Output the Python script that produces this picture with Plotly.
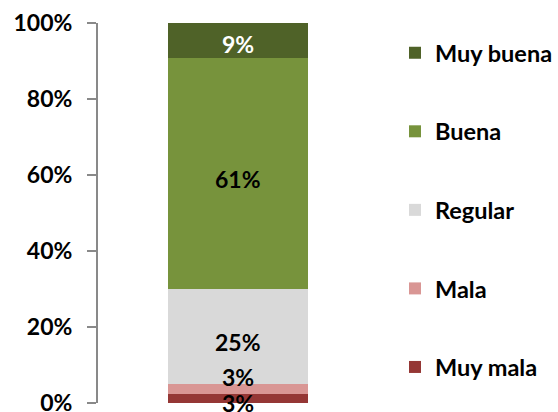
import plotly.graph_objects as go

categories = ["Total"]
series_names = ["Muy mala", "Mala", "Regular", "Buena", "Muy buena"]
series_values = [2.3, 2.8, 24.8, 61.0, 9.1]
value_labels = ["3%", "3%", "25%", "61%", "9%"]
colors = ["#953735", "#D99694", "#D9D9D9", "#77933C", "#4F6228"]
label_colors = ["#000000", "#000000", "#000000", "#000000", "#FFFFFF"]
label_shift = [-4, 12, -5, -6, -4]
tick_vals = [0, 20, 40, 60, 80, 100]
tick_text = ["0%", "20%", "40%", "60%", "80%", "100%"]

FONT = "Lato"
fig = go.Figure()
n = len(series_names)
for i, (name, val) in enumerate(zip(series_names, series_values)):
    fig.add_trace(go.Bar(
        x=[0], y=[val], name=name,
        marker=dict(color=colors[i], line=dict(width=0)),
        width=0.5, legendgroup=name, legendrank=n - i,
    ))

cum = 0
for i, val in enumerate(series_values):
    fig.add_annotation(
        x=0, y=cum + val / 2, text=value_labels[i],
        showarrow=False, yshift=label_shift[i],
        font=dict(family=FONT, size=23, color=label_colors[i], weight="bold"),
    )
    cum += val

fig.update_layout(
    template="none",
    barmode="stack",
    width=558, height=412,
    margin=dict(l=98, r=0, t=23, b=9),
    paper_bgcolor="white", plot_bgcolor="white",
    font=dict(family=FONT, size=23, color="#000000", weight="bold"),
    showlegend=True,
    legend=dict(
        x=0.6457, xanchor="left", y=0.979, yanchor="top",
        traceorder="grouped", tracegroupgap=45,
        font=dict(family=FONT, size=23.5, color="#000000", weight="bold"),
        bgcolor="rgba(0,0,0,0)",
    ),
    xaxis=dict(visible=False, range=[-0.5, 1.1429], automargin=False),
    yaxis=dict(
        range=[0, 100], tickvals=tick_vals, ticktext=tick_text,
        showline=True, linecolor="#898989", linewidth=2,
        ticks="outside", ticklen=9, tickwidth=2, tickcolor="#898989",
        showgrid=False, zeroline=False, automargin=False,
        ticklabelstandoff=10, ticklabeloverflow="allow",
        tickfont=dict(family=FONT, size=23, color="#000000", weight="bold"),
    ),
)

fig.write_html(
    "out.html",
    config={"displayModeBar": False},
    post_script="document.body.style.margin='0';document.body.style.overflow='hidden';",
)
